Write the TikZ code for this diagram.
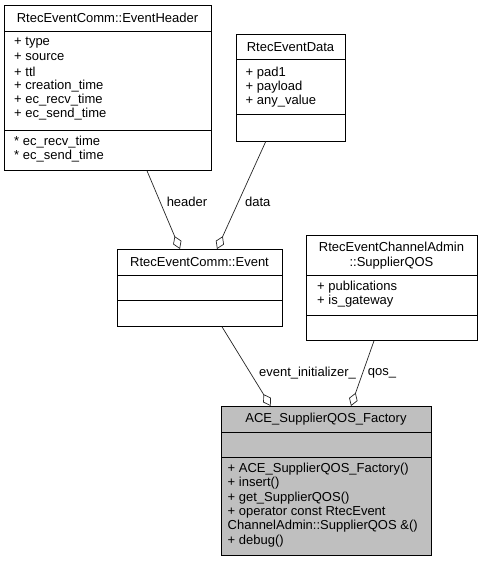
\documentclass[tikz,border=0pt]{standalone}
\usepackage{fontspec}
\setmainfont{Liberation Sans}
\usetikzlibrary{arrows.meta,calc}
\begin{document}
\begin{tikzpicture}[x=1pt,y=-1pt,
  every node/.style={font=\fontsize{13}{14.3}\selectfont},
  box/.style={draw=black,line width=0.8pt,inner sep=0pt,anchor=north west},
  sep/.style={draw=black,line width=0.8pt},
  txt/.style={anchor=west,inner sep=0pt},
  ttl/.style={anchor=center,inner sep=0pt,align=center},
  lbl/.style={anchor=center,inner sep=0pt},
  agg/.style={draw=black!85,line width=0.7pt,-{Diamond[open,length=14pt,width=9pt,line width=0.7pt]}}]
\useasboundingbox[fill=white] (0,0) rectangle (481,563);

% EventHeader
\node[box,minimum width=207pt,minimum height=165pt] (hdr) at (4,5) {};
\draw[sep] (hdr.west |- 0,31) -- (hdr.east |- 0,31);
\draw[sep] (hdr.west |- 0,130) -- (hdr.east |- 0,130);
\node[ttl] (hdrt) at (107.5,18) {RtecEventComm::EventHeader};
\node[txt] (h1) at (14,43) {+ type};
\node[txt] (h2) at (14,57.3) {+ source};
\node[txt] (h3) at (14,71.6) {+ ttl};
\node[txt] (h4) at (14,85.9) {+ creation\_time};
\node[txt] (h5) at (14,100.2) {+ ec\_recv\_time};
\node[txt] (h6) at (14,114.5) {+ ec\_send\_time};
\node[txt] (h7) at (14,141.7) {* ec\_recv\_time};
\node[txt] (h8) at (14,156) {* ec\_send\_time};

% EventData
\node[box,minimum width=109pt,minimum height=106.5pt] (dat) at (236,34.3) {};
\draw[sep] (dat.west |- 0,59.3) -- (dat.east |- 0,59.3);
\draw[sep] (dat.west |- 0,114.3) -- (dat.east |- 0,114.3);
\node[ttl] (datt) at (290.5,47.5) {RtecEventData};
\node[txt] (d1) at (245.5,73) {+ pad1};
\node[txt] (d2) at (245.5,87.3) {+ payload};
\node[txt] (d3) at (245.5,101.6) {+ any\_value};

% Event
\node[box,minimum width=165pt,minimum height=77pt] (evt) at (117,249) {};
\draw[sep] (evt.west |- 0,275) -- (evt.east |- 0,275);
\draw[sep] (evt.west |- 0,300.5) -- (evt.east |- 0,300.5);
\node[ttl] (evtt) at (199.5,262) {RtecEventComm::Event};

% SupplierQOS
\node[box,minimum width=171pt,minimum height=105pt] (qos) at (306,235) {};
\draw[sep] (qos.west |- 0,275.3) -- (qos.east |- 0,275.3);
\draw[sep] (qos.west |- 0,315.8) -- (qos.east |- 0,315.8);
\node[ttl] (qost) at (391.5,255.5) {RtecEventChannelAdmin\\::SupplierQOS};
\node[txt] (q1) at (317,287.3) {+ publications};
\node[txt] (q2) at (317,301.6) {+ is\_gateway};

% Factory
\node[box,fill=black!25,minimum width=210pt,minimum height=149pt] (fac) at (221,406) {};
\draw[sep] (fac.west |- 0,432) -- (fac.east |- 0,432);
\draw[sep] (fac.west |- 0,457) -- (fac.east |- 0,457);
\node[ttl] (fact) at (326,419) {ACE\_SupplierQOS\_Factory};
\node[txt] (f1) at (227.5,469.3) {+ ACE\_SupplierQOS\_Factory()};
\node[txt] (f2) at (227.5,483.6) {+ insert()};
\node[txt] (f3) at (227.5,497.9) {+ get\_SupplierQOS()};
\node[txt] (f4) at (227.5,512.2) {+ operator const RtecEvent};
\node[txt] (f5) at (227.5,526.5) {ChannelAdmin::SupplierQOS \&()};
\node[txt] (f6) at (227.5,540.8) {+ debug()};

% connectors
\draw[agg] ($(hdr.south west)+(143,0)$) -- ($(evt.north west)+(63,0)$);
\draw[agg] ($(dat.south west)+(29.7,0)$) -- ($(evt.north west)+(100,0)$);
\draw[agg] ($(evt.south west)+(105,0)$) -- ($(fac.north west)+(49.7,0)$);
\draw[agg] ($(qos.south west)+(68,0)$) -- ($(fac.north west)+(130,0)$);

% labels
\node[lbl] (lh) at (187,202) {header};
\node[lbl] (ld) at (257.7,202) {data};
\node[lbl] (le) at (307.5,373) {event\_initializer\_};
\node[lbl] (lq) at (382,373) {qos\_};
\end{tikzpicture}
\end{document}
